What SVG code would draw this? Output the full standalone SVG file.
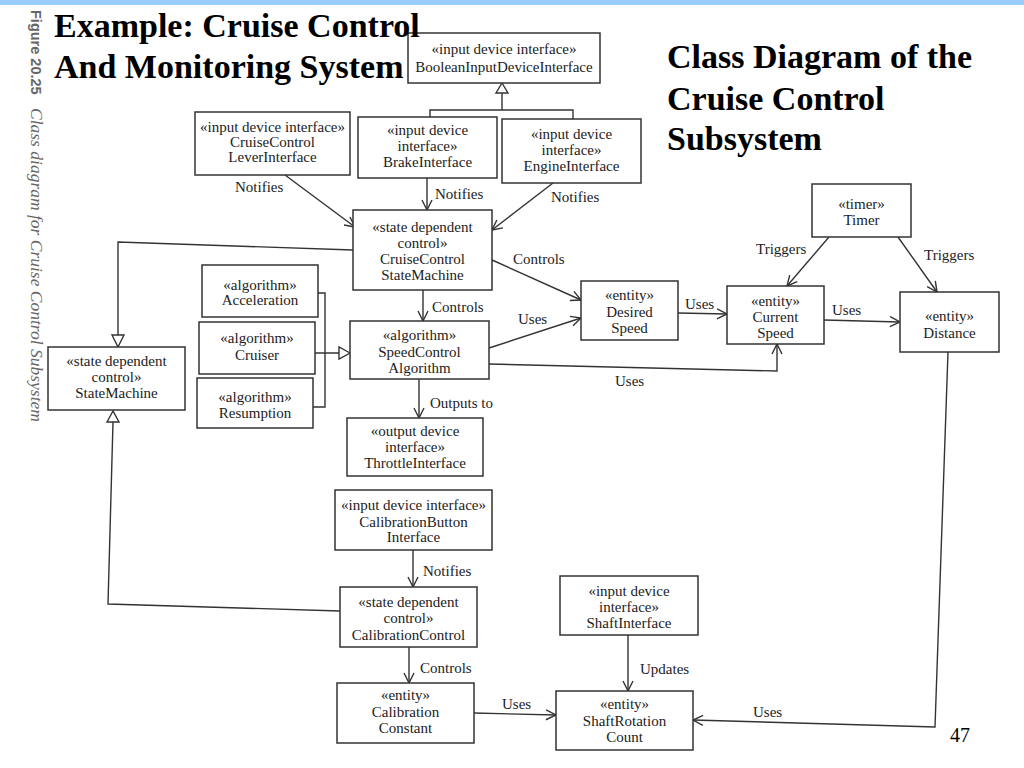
<svg xmlns="http://www.w3.org/2000/svg" width="1024" height="768" viewBox="0 0 1024 768">
<defs>
<style>
.bg{fill:#ffffff}
.box{fill:#ffffff;stroke:#333;stroke-width:1.5}
.t{font-family:"Liberation Serif","Times New Roman",serif;font-size:15px;fill:#222;text-anchor:middle}
.lbl{font-family:"Liberation Serif","Times New Roman",serif;font-size:15px;fill:#222}
.ln{fill:none;stroke:#333;stroke-width:1.4}
.tri{fill:#ffffff;stroke:#333;stroke-width:1.4}
.title{font-family:"Liberation Serif","Times New Roman",serif;font-size:34px;font-weight:bold;fill:#000}
.side1{font-family:"Liberation Sans",Arial,sans-serif;font-size:14.5px;font-weight:bold;fill:#666}
.side2{font-family:"Liberation Serif","Times New Roman",serif;font-size:17.5px;font-style:italic;fill:#666}
</style>
<marker id="open" markerUnits="userSpaceOnUse" markerWidth="14" markerHeight="14" refX="11" refY="6" orient="auto">
<path d="M1,1 L11,6 L1,11" fill="none" stroke="#333" stroke-width="1.4"/>
</marker>
</defs>
<rect class="bg" x="0" y="0" width="1024" height="768"/>
<rect x="0" y="0" width="1024" height="5" fill="#99ccff"/>

<g id="side-caption">
<text class="side1" transform="translate(31,10) rotate(90)">Figure 20.25</text>
<text class="side2" transform="translate(31,108) rotate(90)">Class diagram for Cruise Control Subsystem</text>
</g>

<g id="connectors">
<line class="ln" x1="285" y1="175" x2="355" y2="227" marker-end="url(#open)"/>
<line class="ln" x1="427" y1="178" x2="427" y2="210" marker-end="url(#open)"/>
<line class="ln" x1="553" y1="183" x2="492" y2="230" marker-end="url(#open)"/>
<path class="ln" d="M430,117 V110 H573 V119 M502,110 V93"/>
<polygon class="tri" points="502,83 496,93 508,93"/>
<path class="ln" d="M353,250 L118,242 V335"/>
<polygon class="tri" points="118,347 112,335 124,335"/>
<line class="ln" x1="492" y1="260" x2="581" y2="300" marker-end="url(#open)"/>
<line class="ln" x1="423" y1="290" x2="423" y2="321" marker-end="url(#open)"/>
<line class="ln" x1="829" y1="237" x2="787" y2="286" marker-end="url(#open)"/>
<line class="ln" x1="898" y1="237" x2="937" y2="292" marker-end="url(#open)"/>
<line class="ln" x1="678" y1="313" x2="727" y2="314" marker-end="url(#open)"/>
<line class="ln" x1="824" y1="320" x2="900" y2="322" marker-end="url(#open)"/>
<line class="ln" x1="489" y1="348" x2="581" y2="318" marker-end="url(#open)"/>
<path class="ln" d="M489,364 L777,371 L777,344" marker-end="url(#open)"/>
<path class="ln" d="M318,293 H325 V407 H313 M315,353 H339"/>
<polygon class="tri" points="350,353 339,347 339,359"/>
<line class="ln" x1="419" y1="379" x2="419" y2="418" marker-end="url(#open)"/>
<line class="ln" x1="413" y1="550" x2="413" y2="587" marker-end="url(#open)"/>
<path class="ln" d="M340,611 L108,604 L113,422"/>
<polygon class="tri" points="113,411 107,422 119,422"/>
<line class="ln" x1="409" y1="647" x2="409" y2="683" marker-end="url(#open)"/>
<line class="ln" x1="628" y1="635" x2="628" y2="691" marker-end="url(#open)"/>
<line class="ln" x1="474" y1="713" x2="556" y2="715" marker-end="url(#open)"/>
<path class="ln" d="M948,352 L935,727 L693,720" marker-end="url(#open)"/>
<text class="lbl" x="235" y="192">Notifies</text>
<text class="lbl" x="435" y="199">Notifies</text>
<text class="lbl" x="551" y="202">Notifies</text>
<text class="lbl" x="513" y="264">Controls</text>
<text class="lbl" x="432" y="312">Controls</text>
<text class="lbl" x="756" y="254">Triggers</text>
<text class="lbl" x="924" y="260">Triggers</text>
<text class="lbl" x="685" y="309">Uses</text>
<text class="lbl" x="832" y="315">Uses</text>
<text class="lbl" x="518" y="324">Uses</text>
<text class="lbl" x="615" y="386">Uses</text>
<text class="lbl" x="430" y="408">Outputs to</text>
<text class="lbl" x="423" y="576">Notifies</text>
<text class="lbl" x="420" y="673">Controls</text>
<text class="lbl" x="640" y="674">Updates</text>
<text class="lbl" x="502" y="709">Uses</text>
<text class="lbl" x="753" y="717">Uses</text>
</g>

<g id="n-boolean"><rect class="box" x="408" y="33" width="192" height="50"/>
<text class="t" x="504" y="54">«input device interface»</text><text class="t" x="504" y="72">BooleanInputDeviceInterface</text></g>

<g id="n-lever"><rect class="box" x="195" y="112" width="155" height="63"/>
<text class="t" x="272.5" y="132">«input device interface»</text><text class="t" x="272.5" y="147">CruiseControl</text><text class="t" x="272.5" y="162">LeverInterface</text></g>

<g id="n-brake"><rect class="box" x="358" y="117" width="139" height="61"/>
<text class="t" x="427.5" y="135">«input device</text><text class="t" x="427.5" y="151">interface»</text><text class="t" x="427.5" y="167">BrakeInterface</text></g>

<g id="n-engine"><rect class="box" x="502" y="119" width="139" height="64"/>
<text class="t" x="571.5" y="139">«input device</text><text class="t" x="571.5" y="155">interface»</text><text class="t" x="571.5" y="171">EngineInterface</text></g>

<g id="n-ccsm"><rect class="box" x="353" y="210" width="139" height="80"/>
<text class="t" x="422.5" y="232">«state dependent</text><text class="t" x="422.5" y="248">control»</text><text class="t" x="422.5" y="264">CruiseControl</text><text class="t" x="422.5" y="280">StateMachine</text></g>

<g id="n-acceleration"><rect class="box" x="202" y="265" width="116" height="52"/>
<text class="t" x="260" y="290">«algorithm»</text><text class="t" x="260" y="305">Acceleration</text></g>

<g id="n-cruiser"><rect class="box" x="199" y="322" width="116" height="52"/>
<text class="t" x="257" y="343">«algorithm»</text><text class="t" x="257" y="360">Cruiser</text></g>

<g id="n-resumption"><rect class="box" x="197" y="378" width="116" height="50"/>
<text class="t" x="255" y="402">«algorithm»</text><text class="t" x="255" y="418">Resumption</text></g>

<g id="n-sca"><rect class="box" x="350" y="321" width="139" height="58"/>
<text class="t" x="419.5" y="340">«algorithm»</text><text class="t" x="419.5" y="357">SpeedControl</text><text class="t" x="419.5" y="373">Algorithm</text></g>

<g id="n-statemachine"><rect class="box" x="48" y="347" width="137" height="63"/>
<text class="t" x="116.5" y="366">«state dependent</text><text class="t" x="116.5" y="382">control»</text><text class="t" x="116.5" y="398">StateMachine</text></g>

<g id="n-timer"><rect class="box" x="812" y="184" width="99" height="53"/>
<text class="t" x="861.5" y="209">«timer»</text><text class="t" x="861.5" y="225">Timer</text></g>

<g id="n-desired"><rect class="box" x="581" y="281" width="97" height="59"/>
<text class="t" x="629.5" y="300">«entity»</text><text class="t" x="629.5" y="317">Desired</text><text class="t" x="629.5" y="333">Speed</text></g>

<g id="n-current"><rect class="box" x="727" y="286" width="97" height="58"/>
<text class="t" x="775.5" y="306">«entity»</text><text class="t" x="775.5" y="322">Current</text><text class="t" x="775.5" y="338">Speed</text></g>

<g id="n-distance"><rect class="box" x="900" y="292" width="99" height="60"/>
<text class="t" x="949.5" y="321">«entity»</text><text class="t" x="949.5" y="338">Distance</text></g>

<g id="n-throttle"><rect class="box" x="347" y="418" width="136" height="58"/>
<text class="t" x="415" y="436">«output device</text><text class="t" x="415" y="452">interface»</text><text class="t" x="415" y="468">ThrottleInterface</text></g>

<g id="n-calbutton"><rect class="box" x="335" y="490" width="157" height="60"/>
<text class="t" x="413.5" y="510">«input device interface»</text><text class="t" x="413.5" y="527">CalibrationButton</text><text class="t" x="413.5" y="542">Interface</text></g>

<g id="n-calcontrol"><rect class="box" x="340" y="587" width="137" height="60"/>
<text class="t" x="408.5" y="607">«state dependent</text><text class="t" x="408.5" y="623">control»</text><text class="t" x="408.5" y="640">CalibrationControl</text></g>

<g id="n-shaftif"><rect class="box" x="560" y="576" width="138" height="59"/>
<text class="t" x="629" y="596">«input device</text><text class="t" x="629" y="612">interface»</text><text class="t" x="629" y="628">ShaftInterface</text></g>

<g id="n-calconst"><rect class="box" x="337" y="683" width="137" height="60"/>
<text class="t" x="405.5" y="700">«entity»</text><text class="t" x="405.5" y="717">Calibration</text><text class="t" x="405.5" y="733">Constant</text></g>

<g id="n-shaftrot"><rect class="box" x="556" y="691" width="137" height="59"/>
<text class="t" x="624.5" y="709">«entity»</text><text class="t" x="624.5" y="726">ShaftRotation</text><text class="t" x="624.5" y="742">Count</text></g>

<g id="titles">
<text class="title" x="54" y="37">Example: Cruise Control</text>
<text class="title" x="54" y="78">And Monitoring System</text>
<text class="title" x="667" y="68">Class Diagram of the</text>
<text class="title" x="667" y="110">Cruise Control</text>
<text class="title" x="667" y="150">Subsystem</text>
<text x="950" y="742" font-family="Liberation Serif, Times New Roman, serif" font-size="20" fill="#000">47</text>
</g>
</svg>
